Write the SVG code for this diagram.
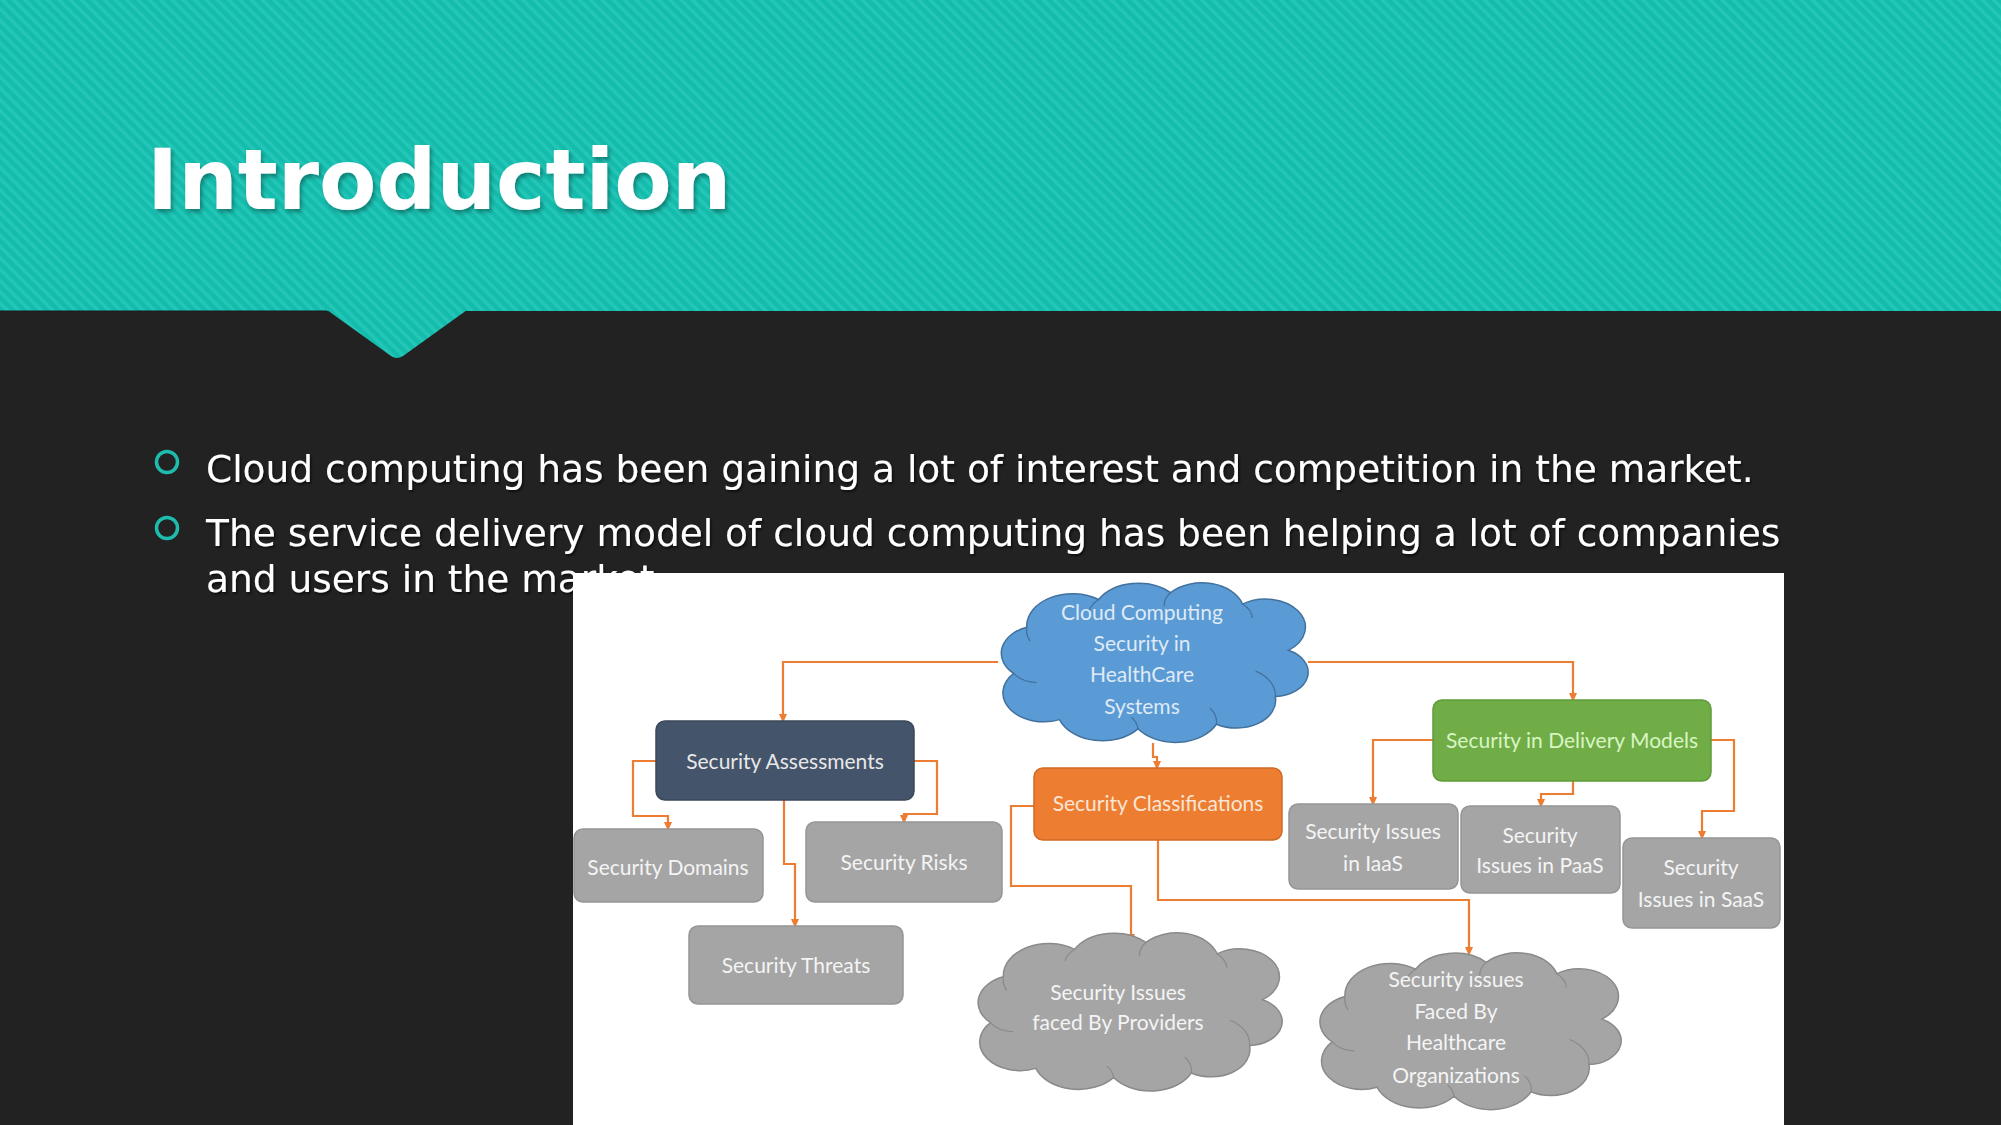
<svg xmlns="http://www.w3.org/2000/svg" width="2001" height="1125" viewBox="0 0 2001 1125">
<defs>
<pattern id="stripes" patternUnits="userSpaceOnUse" width="8" height="8" patternTransform="rotate(-45)">
<rect width="8" height="8" fill="#14bcac"/>
<rect width="3.5" height="8" fill="#24c6b8"/>
</pattern>
<filter id="tshadow" x="-5%" y="-20%" width="110%" height="140%">
<feDropShadow dx="2" dy="3" stdDeviation="2" flood-color="#000" flood-opacity="0.35"/>
</filter>
<filter id="bshadow" x="-5%" y="-20%" width="110%" height="140%">
<feDropShadow dx="1.5" dy="2" stdDeviation="1.2" flood-color="#000" flood-opacity="0.6"/>
</filter>
<marker id="arr" markerUnits="userSpaceOnUse" markerWidth="10" markerHeight="10" refX="5" refY="5" orient="auto">
<path d="M0,1 L9,5 L0,9 Z" fill="#ED7D31"/>
</marker>
<path id="cloud" vector-effect="non-scaling-stroke" stroke-width="1.5" d="M10,40 A12,12 0 0 1 14,20 A14,14 0 0 1 36,8 A14,14 0 0 1 58,5 A13,13 0 0 1 80,10 A12,12 0 0 1 94,30 A10.5,10.5 0 0 1 90,50 A12,12 0 0 1 72,62 A14,14 0 0 1 48,64 A14,14 0 0 1 24,60 A12.5,12.5 0 0 1 10,40 Z"/>
<path id="cloudin" vector-effect="non-scaling-stroke" stroke-width="1.2" fill="none" d="M10,40 A9,9 0 0 0 17,44 M14,20 A11,11 0 0 0 15,26 M36,8 A10,10 0 0 0 33,13 M58,5 A9,9 0 0 0 56,11 M80,10 A9,9 0 0 1 83,16 M90,50 A12,12 0 0 0 84,39 M72,62 A10,10 0 0 0 70,55 M48,64 A9,9 0 0 0 46,59"/>
</defs>
<style>
.body{font-family:"DejaVu Sans",sans-serif;font-size:37.5px;fill:#ffffff}
.node{font-family:Lato,"Liberation Sans",sans-serif;font-size:21px;text-anchor:middle}
.gray rect{fill:#a5a5a5;stroke:#959595;stroke-width:1.5}
.gray text{fill:#f4f4f4}
.conn path{fill:none;stroke:#ED7D31;stroke-width:2.2;marker-end:url(#arr)}
</style>
<rect width="2001" height="1125" fill="#222222"/>
<g id="banner">
<rect x="0" y="0" width="2001" height="311" fill="url(#stripes)"/>
<path d="M327,310 L391,356 Q397,360 403,356 L467,310 Z" fill="url(#stripes)"/>
<line x1="0" y1="311" x2="327" y2="311" stroke="#1a1a1a" stroke-width="1"/>
<text x="147" y="209" font-family="DejaVu Sans,sans-serif" font-weight="bold" font-size="83.7" fill="#ffffff" filter="url(#tshadow)">Introduction</text>
</g>
<g id="bullets">
<circle cx="167" cy="462" r="10.5" fill="none" stroke="#1dbcad" stroke-width="3.5"/>
<circle cx="167" cy="528" r="10.5" fill="none" stroke="#1dbcad" stroke-width="3.5"/>
<g filter="url(#bshadow)">
<text class="body" x="206" y="482">Cloud computing has been gaining a lot of interest and competition in the market.</text>
<text class="body" x="206" y="546">The service delivery model of cloud computing has been helping a lot of companies</text>
<text class="body" x="206" y="592">and users in the market.</text>
</g>
</g>
<rect id="picture" x="573" y="573" width="1211" height="552" fill="#ffffff"/>
<g id="connectors" class="conn">
<path d="M998,662 H783 V719"/>
<path d="M1308,662 H1573 V698"/>
<path d="M1153,743 V757 H1157 V766"/>
<path d="M656,761 H633 V816 H668 V827"/>
<path d="M914,761 H937 V814 H904 V820"/>
<path d="M784,800 V864 H795 V924"/>
<path d="M1034,806 H1011 V886 H1131 V939"/>
<path d="M1158,840 V900 H1469 V952"/>
<path d="M1433,740 H1373 V802"/>
<path d="M1573,781 V794 H1541 V804"/>
<path d="M1711,740 H1734 V811 H1702 V836"/>
</g>
<g id="n-cloud-main">
<g transform="translate(981,581) scale(3.27,2.31)" stroke="#41719C">
<use href="#cloud" fill="#5B9BD5"/>
<use href="#cloudin"/>
</g>
<text class="node" fill="#dfeaf6"><tspan x="1142" y="620">Cloud Computing</tspan><tspan x="1142" y="651">Security in</tspan><tspan x="1142" y="682">HealthCare</tspan><tspan x="1142" y="714">Systems</tspan></text>
</g>
<g id="n-assess">
<rect x="656" y="721" width="258" height="79" rx="9" fill="#44546A" stroke="#3a4858" stroke-width="1.5"/>
<text class="node" x="785" y="769" fill="#e8e8e8">Security Assessments</text>
</g>
<g id="n-class">
<rect x="1034" y="768" width="248" height="72" rx="9" fill="#ED7D31" stroke="#d06a25" stroke-width="1.5"/>
<text class="node" x="1158" y="811" fill="#fbe5d6">Security Classifications</text>
</g>
<g id="n-delivery">
<rect x="1433" y="700" width="278" height="81" rx="9" fill="#70AD47" stroke="#5f9a3a" stroke-width="1.5"/>
<text class="node" x="1572" y="748" fill="#d8f5c4">Security in Delivery Models</text>
</g>
<g id="n-domains" class="gray">
<rect x="574" y="829" width="189" height="73" rx="9"/>
<text class="node" x="668" y="875">Security Domains</text>
</g>
<g id="n-risks" class="gray">
<rect x="806" y="822" width="196" height="80" rx="9"/>
<text class="node" x="904" y="870">Security Risks</text>
</g>
<g id="n-threats" class="gray">
<rect x="689" y="926" width="214" height="78" rx="9"/>
<text class="node" x="796" y="973">Security Threats</text>
</g>
<g id="n-iaas" class="gray">
<rect x="1289" y="804" width="169" height="85" rx="9"/>
<text class="node"><tspan x="1373" y="839">Security Issues</tspan><tspan x="1373" y="871">in IaaS</tspan></text>
</g>
<g id="n-paas" class="gray">
<rect x="1461" y="806" width="159" height="87" rx="9"/>
<text class="node"><tspan x="1540" y="843">Security</tspan><tspan x="1540" y="873">Issues in PaaS</tspan></text>
</g>
<g id="n-saas" class="gray">
<rect x="1623" y="838" width="157" height="90" rx="9"/>
<text class="node"><tspan x="1701" y="875">Security</tspan><tspan x="1701" y="907">Issues in SaaS</tspan></text>
</g>
<g id="n-cloud-providers">
<g transform="translate(958,931) scale(3.24,2.29)" stroke="#8a8a8a">
<use href="#cloud" fill="#a5a5a5"/>
<use href="#cloudin"/>
</g>
<text class="node" fill="#f4f4f4"><tspan x="1118" y="1000">Security Issues</tspan><tspan x="1118" y="1030">faced By Providers</tspan></text>
</g>
<g id="n-cloud-healthcare">
<g transform="translate(1300,951) scale(3.21,2.27)" stroke="#8a8a8a">
<use href="#cloud" fill="#a5a5a5"/>
<use href="#cloudin"/>
</g>
<text class="node" fill="#f4f4f4"><tspan x="1456" y="987">Security issues</tspan><tspan x="1456" y="1019">Faced By</tspan><tspan x="1456" y="1050">Healthcare</tspan><tspan x="1456" y="1083">Organizations</tspan></text>
</g>
</svg>
